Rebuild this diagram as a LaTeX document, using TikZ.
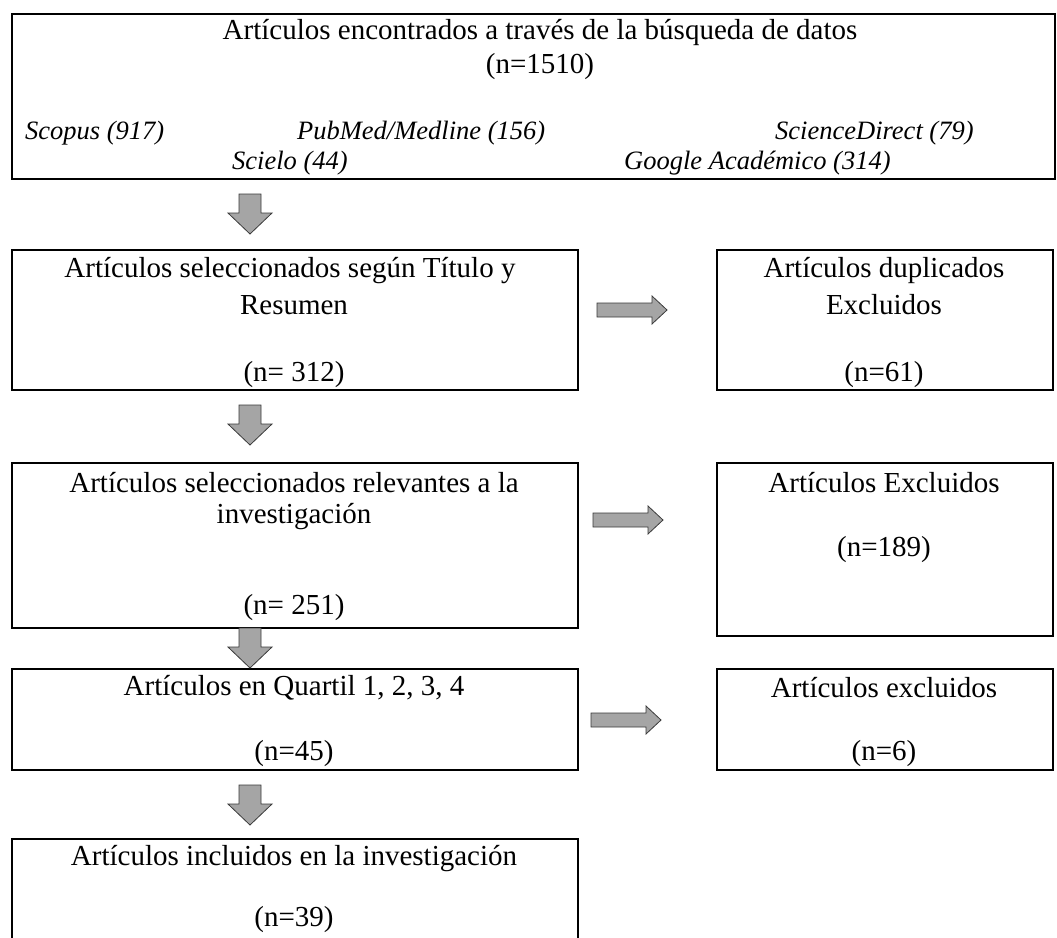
\documentclass[tikz,border=0pt]{standalone}
\usepackage{fontspec}
\setmainfont{Liberation Serif}
\begin{document}
\begin{tikzpicture}[x=1pt,y=-1pt,
  box/.style={draw=black,line width=2pt,anchor=north west,inner sep=0pt},
  txt/.style={inner sep=0pt,font=\fontsize{29}{34}\selectfont},
  itx/.style={inner sep=0pt,anchor=west,font=\fontsize{26.5}{32}\selectfont\itshape},
  blockarrow/.style={fill=arrowgray,draw=arrowedge,line width=0.8pt,line join=miter},
  darr/.pic={\path[blockarrow] (-11,0) -- (11,0) -- (11,19) -- (22,19) -- (0,40) -- (-22,19) -- (-11,19) -- cycle;},
  rarr/.pic={\path[blockarrow] (0,-7) -- (55,-7) -- (55,-14) -- (70,0) -- (55,14) -- (55,7) -- (0,7) -- cycle;}]
\definecolor{arrowgray}{HTML}{A5A5A5}
\definecolor{arrowedge}{HTML}{3A3A3A}
\useasboundingbox (0,0) rectangle (1057,937);
\clip (0,0) rectangle (1057,937);
% boxes
\node[box,minimum width=1043pt,minimum height=165pt] (b0) at (11,13) {};
\node[box,minimum width=566pt,minimum height=140pt] (b1) at (11,249) {};
\node[box,minimum width=336pt,minimum height=140pt] (r1) at (716,249) {};
\node[box,minimum width=566pt,minimum height=165pt] (b2) at (11,462) {};
\node[box,minimum width=336pt,minimum height=173pt] (r2) at (716,462) {};
\node[box,minimum width=566pt,minimum height=101pt] (b3) at (11,668) {};
\node[box,minimum width=336pt,minimum height=101pt] (r3) at (716,668) {};
\node[box,minimum width=566pt,minimum height=130pt] (b4) at (11,838) {};
% top box text
\node[txt] (t0a) at (540,33) {Artículos encontrados a través de la búsqueda de datos};
\node[txt] (t0b) at (540,67) {(n=1510)};
\node[itx] (s1) at (25,133) {Scopus (917)};
\node[itx] (s2) at (297,133) {PubMed/Medline (156)};
\node[itx] (s3) at (775,133) {ScienceDirect (79)};
\node[itx] (s4) at (232,163) {Scielo (44)};
\node[itx] (s5) at (624,163) {Google Académico (314)};
% box 1
\node[txt] (t1a) at (290,271) {Artículos seleccionados según Título y};
\node[txt] (t1b) at (294,305) {Resumen};
\node[txt] (t1c) at (294,375) {(n= 312)};
\node[txt] (u1a) at (884,271) {Artículos duplicados};
\node[txt] (u1b) at (884,305) {Excluidos};
\node[txt] (u1c) at (884,375) {(n=61)};
% box 2
\node[txt] (t2a) at (294,483) {Artículos seleccionados relevantes a la};
\node[txt] (t2b) at (294,517) {investigación};
\node[txt] (t2c) at (294,608) {(n= 251)};
\node[txt] (u2a) at (884,483) {Artículos Excluidos};
\node[txt] (u2c) at (884,550) {(n=189)};
% box 3
\node[txt] (t3a) at (294,688) {Artículos en Quartil 1, 2, 3, 4};
\node[txt] (t3c) at (294,754) {(n=45)};
\node[txt] (u3a) at (884,688) {Artículos excluidos};
\node[txt] (u3c) at (884,754) {(n=6)};
% box 4
\node[txt] (t4a) at (294,859) {Artículos incluidos en la investigación};
\node[txt] (t4c) at (294,920) {(n=39)};
% block arrows
\pic at (250,194) {darr};
\pic at (250,405) {darr};
\pic at (250,628) {darr};
\pic at (250,785) {darr};
\pic at (597,310) {rarr};
\pic at (593,520) {rarr};
\pic at (591,720) {rarr};
\end{tikzpicture}
\end{document}
